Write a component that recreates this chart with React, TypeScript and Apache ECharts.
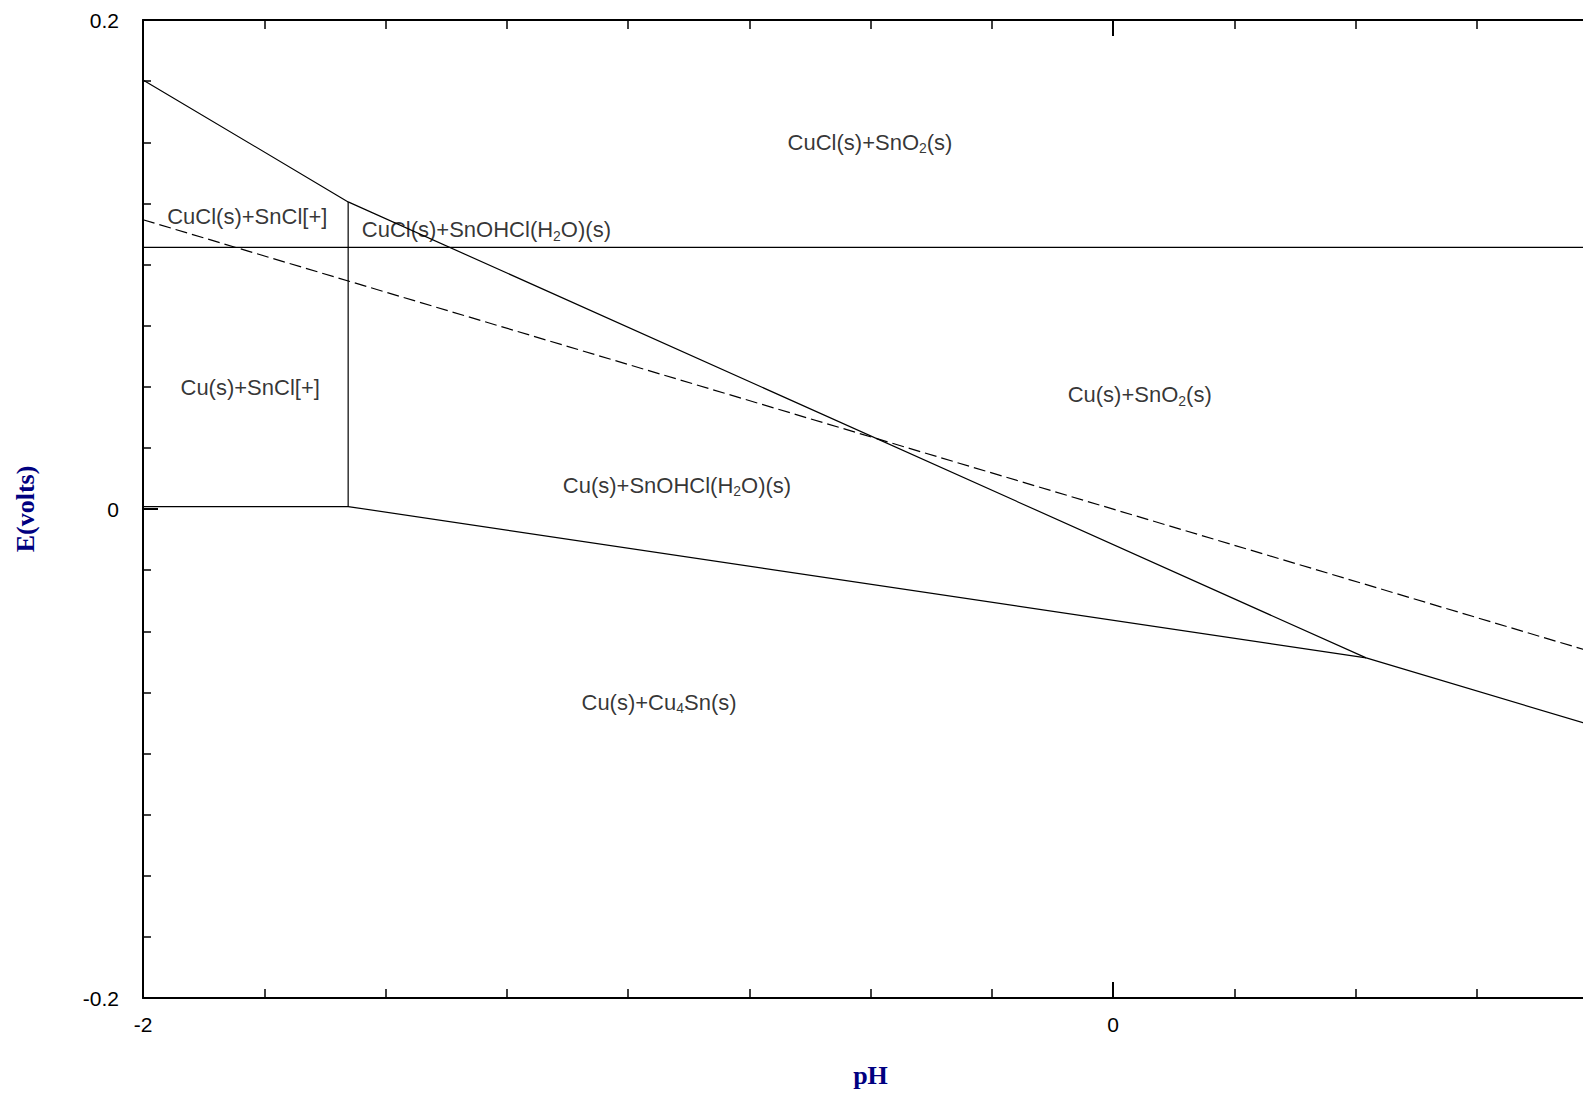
import React, { useEffect, useRef } from 'react';
import * as echarts from 'echarts';

// Axis ranges
const phRange = [-2, 1];
const eRange = [-0.2, 0.2];

// Phase boundaries [pH, E(volts)]
const upperBoundary = [[-2, 0.1755], [-1.577, 0.1256], [0.522, -0.0609], [1, -0.0892]];
const lowerBoundary = [[-2, 0.001], [-1.577, 0.001], [0.522, -0.0609]];
const verticalBoundary = [[-1.577, 0.001], [-1.577, 0.1256]];
const horizontalBoundary = [[-2, 0.107], [1, 0.107]];
const hydrogenLine = [[-2, 0.1183], [1, -0.0592]];

// Region labels
const regionNames = [
  '{a|CuCl(s)+SnO}{s|2}{a|(s)}',
  '{a|CuCl(s)+SnCl[+]}',
  '{a|CuCl(s)+SnOHCl(H}{s|2}{a|O)(s)}',
  '{a|Cu(s)+SnCl[+]}',
  '{a|Cu(s)+SnO}{s|2}{a|(s)}',
  '{a|Cu(s)+SnOHCl(H}{s|2}{a|O)(s)}',
  '{a|Cu(s)+Cu}{s|4}{a|Sn(s)}',
];
const regionPH = [-0.501, -1.785, -1.292, -1.779, 0.055, -0.899, -0.936];
const regionE = [0.150, 0.1195, 0.1143, 0.0497, 0.0468, 0.0097, -0.079];

export default function App() {
  const ref = useRef<HTMLDivElement>(null);
  useEffect(() => {
    if (!ref.current) return;
    document.body.style.overflow = 'hidden';
    const chart = echarts.init(ref.current, undefined, { renderer: 'svg' });
    const axisLineStyle = { color: '#000', width: 2 };
    const nameStyle = {
      fontFamily: 'Liberation Serif',
      fontWeight: 'bold' as const,
      fontSize: 26,
      color: '#000080',
    };
    const lineSeries = (data: number[][], dashed = false) => ({
      type: 'line',
      data,
      symbol: 'none',
      silent: true,
      lineStyle: { color: '#000', width: 1.2, type: dashed ? [12, 5] : 'solid' },
    });
    chart.setOption({
      animation: false,
      backgroundColor: '#fff',
      grid: { left: 143, top: 20, right: 0, bottom: 94, containLabel: false },
      xAxis: [
        {
          type: 'value',
          min: phRange[0],
          max: phRange[1],
          interval: 2,
          position: 'bottom',
          axisLine: { show: true, onZero: false, lineStyle: axisLineStyle },
          axisTick: { show: true, inside: true, length: 16, lineStyle: { color: '#000', width: 2 } },
          minorTick: { show: true, splitNumber: 8, length: 9, lineStyle: { color: '#000', width: 1.5 } },
          splitLine: { show: false },
          axisLabel: {
            color: '#000',
            fontSize: 21,
            fontFamily: 'Liberation Sans',
            margin: 16,
            showMaxLabel: false,
          },
          name: 'pH',
          nameLocation: 'middle',
          nameGap: 64,
          nameTextStyle: nameStyle,
        },
        {
          type: 'value',
          min: phRange[0],
          max: phRange[1],
          interval: 2,
          position: 'top',
          axisLine: { show: true, onZero: false, lineStyle: axisLineStyle },
          axisTick: { show: true, inside: true, length: 16, lineStyle: { color: '#000', width: 2 } },
          minorTick: { show: true, splitNumber: 8, length: 9, lineStyle: { color: '#000', width: 1.5 } },
          splitLine: { show: false },
          axisLabel: { show: false },
        },
      ],
      yAxis: {
        type: 'value',
        min: eRange[0],
        max: eRange[1],
        interval: 0.2,
        axisLine: { show: true, onZero: false, lineStyle: axisLineStyle },
        axisTick: { show: true, inside: true, length: 15, lineStyle: { color: '#000', width: 2 } },
        minorTick: { show: true, splitNumber: 8, length: 8, lineStyle: { color: '#000', width: 1.5 } },
        splitLine: { show: false },
        axisLabel: {
          color: '#000',
          fontSize: 21,
          fontFamily: 'Liberation Sans',
          margin: 24,
          formatter: (v: number) => (Math.abs(v) < 1e-9 ? '0' : String(Math.round(v * 10) / 10)),
        },
        name: 'E(volts)',
        nameLocation: 'middle',
        nameRotate: 90,
        nameGap: 105,
        nameTextStyle: nameStyle,
      },
      series: [
        lineSeries(upperBoundary),
        lineSeries(lowerBoundary),
        lineSeries(verticalBoundary),
        lineSeries(horizontalBoundary),
        lineSeries(hydrogenLine, true),
        {
          type: 'scatter',
          silent: true,
          symbolSize: 0,
          data: regionNames.map((n, i) => ({ value: [regionPH[i], regionE[i]], name: n })),
          label: {
            show: true,
            position: 'inside',
            formatter: (p: any) => p.name,
            rich: {
              a: { fontSize: 22, fontFamily: 'Liberation Sans', color: '#000', lineHeight: 26 },
              s: { fontSize: 14, fontFamily: 'Liberation Sans', color: '#000', lineHeight: 14, verticalAlign: 'bottom' },
            },
          },
        },
      ],
    });
    return () => chart.dispose();
  }, []);
  return (
    <div
      ref={ref}
      style={{ position: 'fixed', left: 0, top: 0, width: '1598px', height: '1093px' }}
    />
  );
}
